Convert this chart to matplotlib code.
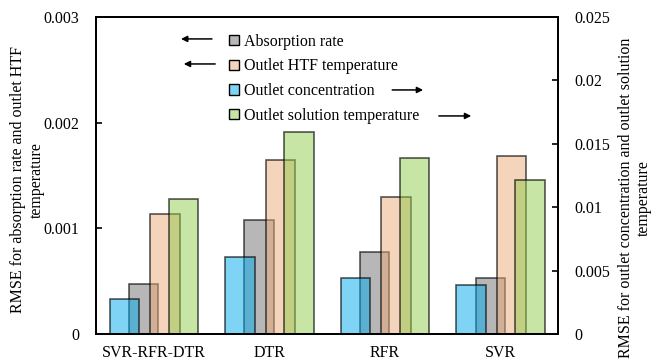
import numpy as np
import matplotlib
matplotlib.use("Agg")
import matplotlib.pyplot as plt
from matplotlib.patches import Patch

plt.rcParams['font.family'] = ['Liberation Serif', 'DejaVu Serif']
plt.rcParams['font.size'] = 11.5

# RMSE per model
models = ['SVR-RFR-DTR', 'DTR', 'RFR', 'SVR']
absorption_rate = [0.00047, 0.00108, 0.00078, 0.000527]      # left axis
htf_temperature = [0.001133, 0.001648, 0.001294, 0.001689]   # left axis
outlet_concentration = [0.00278, 0.00605, 0.00444, 0.00386]  # right axis
solution_temperature = [0.01065, 0.01593, 0.01386, 0.01215]  # right axis

c_gray = (0.44, 0.44, 0.44, 0.5)
c_peach = (0.93, 0.67, 0.48, 0.5)
c_blue = (0.0, 0.67, 0.93, 0.5)
c_green = (0.57, 0.80, 0.29, 0.5)
edge = (0, 0, 0, 0.65)

fig = plt.figure(figsize=(6.62, 3.63), dpi=100)
ax = fig.add_axes([0.145, 0.080, 0.698, 0.873])
ax2 = ax.twinx()

x = np.arange(len(models)) + 0.5
w = 0.255

ax.bar(x - 0.087, absorption_rate, w, color=c_gray, edgecolor=edge, linewidth=1.2)
ax.bar(x + 0.097, htf_temperature, w, color=c_peach, edgecolor=edge, linewidth=1.2)
ax2.bar(x - 0.255, outlet_concentration, w, color=c_blue, edgecolor=edge, linewidth=1.2)
ax2.bar(x + 0.258, solution_temperature, w, color=c_green, edgecolor=edge, linewidth=1.2)

ax.set_xlim(0, 4)
ax.set_ylim(0, 0.003)
ax2.set_ylim(0, 0.025)
ax.set_yticks([0, 0.001, 0.002, 0.003])
ax.set_yticklabels(['0', '0.001', '0.002', '0.003'])
ax2.set_yticks([0, 0.005, 0.01, 0.015, 0.02, 0.025])
ax2.set_yticklabels(['0', '0.005', '0.01', '0.015', '0.02', '0.025'])
ax.set_xticks(x)
ax.set_xticklabels(models)
ax.tick_params(axis='x', length=0, pad=8)
ax.tick_params(axis='y', direction='in', length=4, width=1.2, pad=12)
ax2.tick_params(axis='y', direction='in', length=4, width=1.2, pad=12)
for a in (ax, ax2):
    for s in a.spines.values():
        s.set_linewidth(1.3)

ax.set_ylabel('RMSE for absorption rate and outlet HTF\ntemperature',
              va='center', ha='center', multialignment='center')
ax.yaxis.set_label_coords(-0.148, 0.486)
ax2.set_ylabel('RMSE for outlet concentration and outlet solution\ntemperature',
               va='center', ha='center', multialignment='center', rotation=90)
ax2.yaxis.set_label_coords(1.166, 0.43)

handles = [Patch(facecolor=c_gray, edgecolor='black', linewidth=1),
           Patch(facecolor=c_peach, edgecolor='black', linewidth=1),
           Patch(facecolor=c_blue, edgecolor='black', linewidth=1),
           Patch(facecolor=c_green, edgecolor='black', linewidth=1)]
labels = ['Absorption rate', 'Outlet HTF temperature',
          'Outlet concentration', 'Outlet solution temperature']
leg = ax2.legend(handles, labels, loc='upper left', bbox_to_anchor=(0.275, 0.968),
                 frameon=False, handlelength=0.6, handleheight=0.6,
                 handletextpad=0.3, labelspacing=0.55, borderaxespad=0)

# arrows pointing to the axis each series belongs to
arrow = dict(arrowstyle='-|>', color='black', lw=1.1, mutation_scale=9,
             shrinkA=0, shrinkB=0)
for (x0, x1, yy) in [(0.251, 0.184, 0.931), (0.258, 0.190, 0.852),
                     (0.641, 0.708, 0.770), (0.742, 0.812, 0.688)]:
    ax2.annotate('', xy=(x1, yy), xytext=(x0, yy),
                 xycoords='axes fraction', textcoords='axes fraction',
                 arrowprops=arrow)

fig.savefig('out.png', dpi=100)
